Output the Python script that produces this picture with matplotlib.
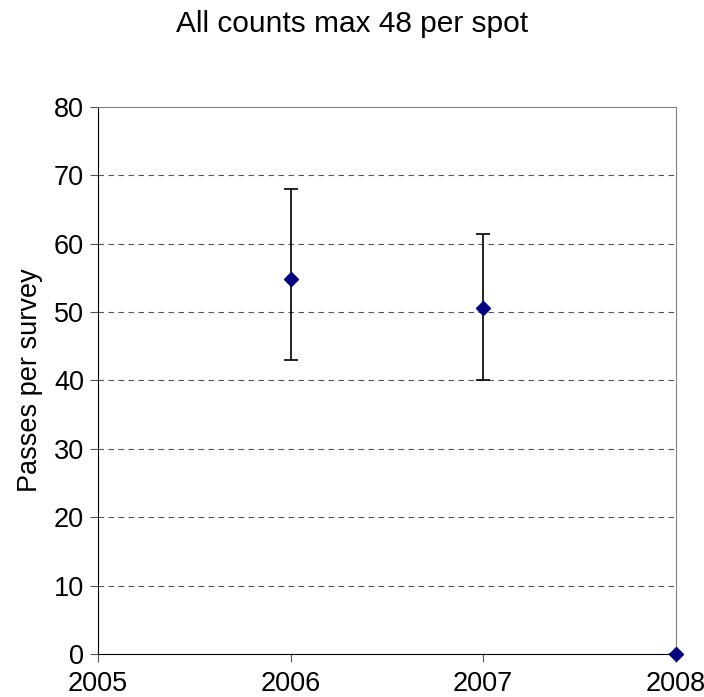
import numpy as np
import matplotlib
matplotlib.use("Agg")
import matplotlib.pyplot as plt

plt.rcParams['font.family'] = ['Liberation Sans', 'DejaVu Sans']

years = [2006, 2007, 2008]
means = [54.8, 50.6, 0.0]
lows = [43.0, 40.0, 0.0]
highs = [68.0, 61.4, 0.0]

fig = plt.figure(figsize=(7.04, 6.97), dpi=100)
ax = fig.add_axes([0.139, 0.0617, 0.821, 0.785])

yerr = [np.array(means) - np.array(lows), np.array(highs) - np.array(means)]
ax.errorbar(years, means, yerr=yerr, fmt='D', color='#000080', markersize=7,
            ecolor='black', elinewidth=1.2, capsize=5, capthick=1.2,
            clip_on=False, zorder=3)

ax.set_xlim(2005, 2008)
ax.set_ylim(0, 80)
ax.set_xticks([2005, 2006, 2007, 2008])
ax.set_yticks(range(0, 81, 10))
for y in range(10, 80, 10):
    ax.axhline(y, color='#555555', linestyle=(0, (5, 4)), linewidth=0.8, zorder=1)
ax.tick_params(labelsize=19.5, direction='out', length=6, color='#555555')
ax.tick_params(axis='x', pad=6)
ax.tick_params(axis='y', pad=4)
for s in ax.spines.values():
    s.set_color('#808080')
ax.spines['left'].set_color('black')
ax.spines['bottom'].set_color('black')
ax.set_ylabel('Passes per survey', fontsize=19.5, labelpad=8)
fig.text(0.5, 0.966, 'All counts max 48 per spot', ha='center', va='center', fontsize=21.5)

fig.savefig('out.png', dpi=100)
